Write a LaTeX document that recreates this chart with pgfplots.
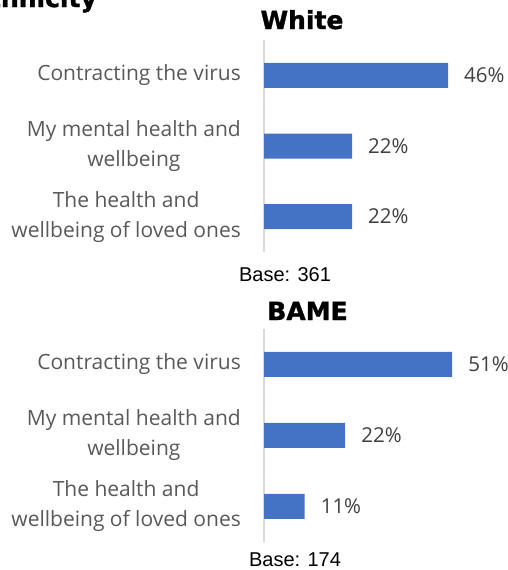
\documentclass[border=0pt]{standalone}
\usepackage{pgfplots}
\pgfplotsset{compat=1.18}
\usepackage{fontspec}
\setmainfont{Open Sans}
\newfontfamily\titlefont{DejaVu Sans Bold}[FakeBold=1.3]
\newfontfamily\arialfont{Liberation Sans}
\definecolor{barblue}{HTML}{4472C4}
\definecolor{lblgrey}{HTML}{595959}
\definecolor{numgrey}{HTML}{404040}
\definecolor{axgrey}{HTML}{D9D9D9}
\pgfplotsset{
  panel/.style={
    scale only axis,
    xbar, bar width=25pt,
    xmin=0, xmax=50, ymin=0.5, ymax=3.5,
    axis x line=none,
    axis y line*=left,
    y axis line style={draw=axgrey, line width=1.5pt},
    ytick={1,2,3},
    yticklabels={{The health and\\wellbeing of loved ones},{My mental health and\\wellbeing},{Contracting the virus}},
    major tick length=0pt,
    ytick style={draw=none},
    yticklabel style={anchor=east, align=center, inner sep=0pt, xshift=-23pt, text=lblgrey, font=\fontsize{21}{30}\selectfont},
    point meta=x,
    /pgf/number format/assume math mode=true,
    nodes near coords={\pgfmathprintnumber{\pgfplotspointmeta}\%},
    nodes near coords style={anchor=west, inner sep=0pt, xshift=16pt, text=numgrey, font=\fontsize{20.5}{24}\selectfont},
    clip=false,
  }
}
\begin{document}
\begin{tikzpicture}
\useasboundingbox (0,0) rectangle (508pt,-570pt);
% cropped main title
\node[anchor=base east, inner sep=0pt, font=\titlefont\fontsize{25}{30}\selectfont] at (97pt,-7pt) {Ethnicity};
% panel titles
\node[anchor=base, inner sep=0pt, font=\titlefont\fontsize{25}{30}\selectfont] at (302pt,-29pt) {White};
\node[anchor=base, inner sep=0pt, font=\titlefont\fontsize{25}{30}\selectfont] at (307.5pt,-320pt) {BAME};
% top panel
\begin{axis}[panel, at={(264pt,-252pt)}, anchor=south west, width=200pt, height=212pt]
\addplot[fill=barblue, draw=none] coordinates {(22,1) (22,2) (46,3)};
\end{axis}
\node[anchor=base, inner sep=0pt, font=\arialfont\fontsize{20}{24}\selectfont] at (285pt,-281pt) {Base: 361};
% bottom panel
\begin{axis}[panel, at={(264pt,-541.7pt)}, anchor=south west, width=184.5pt, height=212.7pt]
\addplot[fill=barblue, draw=none] coordinates {(11,1) (22,2) (51,3)};
\end{axis}
\node[anchor=base, inner sep=0pt, font=\arialfont\fontsize{20}{24}\selectfont] at (295pt,-566pt) {Base: 174};
\end{tikzpicture}
\end{document}
